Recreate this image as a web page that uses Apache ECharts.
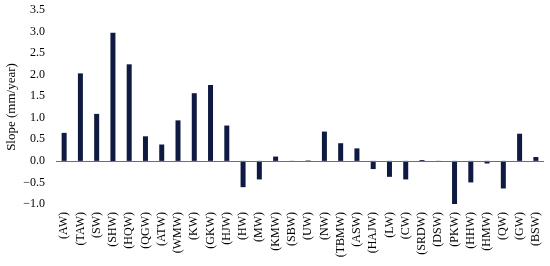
<!DOCTYPE html>
<html><head><meta charset="utf-8">
<script src="https://cdn.jsdelivr.net/npm/echarts@6/dist/echarts.min.js"></script>
<style>html,body{margin:0;padding:0;background:#fff}#c{width:550px;height:266px}</style>
</head><body><div id="c"></div>
<script>
const categories = ["(AW)","(TAW)","(SW)","(SHW)","(HQW)","(QGW)","(ATW)","(WMW)","(KW)","(GKW)","(HJW)","(HW)","(MW)","(KMW)","(SBW)","(UW)","(NW)","(TBMW)","(ASW)","(HAJW)","(LW)","(CW)","(SRDW)","(DSW)","(PKW)","(HHW)","(HMW)","(QW)","(GW)","(BSW)"];
const slopes = [0.65,2.03,1.09,2.97,2.24,0.57,0.38,0.94,1.57,1.76,0.82,-0.61,-0.43,0.1,-0.02,0.01,0.68,0.41,0.29,-0.19,-0.37,-0.43,0.02,-0.02,-1.01,-0.5,-0.06,-0.64,0.63,0.09];
const yTicks = {min:-1, max:3.5, interval:0.5};
const yTitle = "Slope (mm/year)";

const chart = echarts.init(document.getElementById('c'), null, {renderer:'canvas'});
const font = 'Times New Roman';
chart.setOption({
  animation:false,
  backgroundColor:'#fff',
  grid:{left:56, right:6, top:10, bottom:62, containLabel:false, outerBoundsMode:'none'},
  xAxis:{
    type:'category', data:categories,
    axisLine:{show:false, onZero:false},
    axisTick:{show:false},
    axisLabel:{rotate:90, interval:0, fontFamily:font, fontSize:12, color:'#000', margin:8}
  },
  yAxis:{
    type:'value', min:yTicks.min, max:yTicks.max, interval:yTicks.interval,
    name:yTitle, nameLocation:'middle', nameGap:38, nameMoveOverlap:false,
    nameTextStyle:{fontFamily:font, fontSize:13, color:'#000'},
    axisLine:{show:false}, axisTick:{show:false}, splitLine:{show:false},
    axisLabel:{fontFamily:font, fontSize:12, color:'#000', margin:11,
      formatter:v=>(v<0?'\u2212':'')+Math.abs(v).toFixed(1)}
  },
  series:[{
    type:'bar', data:slopes, barWidth:5,
    itemStyle:{color:'#0f1a42'},
    markLine:{silent:true, symbol:'none', label:{show:false},
      lineStyle:{color:'#6e6e6e', width:1, type:'solid'},
      data:[{yAxis:0}]}
  }]
});
</script></body></html>
